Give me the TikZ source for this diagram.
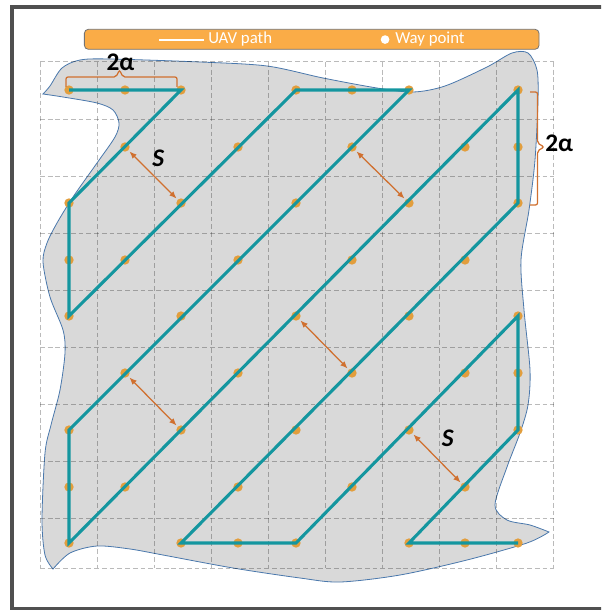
\documentclass[tikz,border=0pt]{standalone}
\usepackage{fontspec}
\setmainfont{Carlito}
\usetikzlibrary{arrows.meta, positioning}
\definecolor{areagray}{HTML}{D9D9D9}
\definecolor{edgeblue}{HTML}{4A78AC}
\definecolor{pathteal}{HTML}{14969F}
\definecolor{wpgold}{HTML}{E29E3D}
\definecolor{sorange}{HTML}{D0702F}
\definecolor{legendorange}{HTML}{FAAC47}
\definecolor{framegray}{HTML}{505050}
\tikzset{
  area/.style={
    fill=areagray,
    draw=edgeblue,
    line width=0.6pt
  },
  gridline/.style={
    draw=black,
    draw opacity=0.27,
    dash pattern=on 3.6pt off 2.2pt,
    line width=0.75pt
  },
  uavpath/.style={
    pathteal,
    line width=2.3pt
  },
  waypt/.style={
    circle,
    fill=wpgold,
    inner sep=0pt,
    minimum size=7pt
  },
  spacing/.style={
    {Latex[length=5.5pt,width=4.5pt]}-{Latex[length=5.5pt,width=4.5pt]},
    sorange,
    line width=0.95pt,
    shorten <=1pt,
    shorten >=1pt
  },
  bracket/.style={
    sorange,
    line width=0.95pt,
    rounded corners=1.5pt
  },
  mathlabel/.style={
    font=\fontsize{19}{22}\selectfont\bfseries,
    inner sep=0pt
  },
  legendbar/.style={
    draw=black!55,
    fill=legendorange,
    rounded corners=3pt,
    line width=0.6pt,
    minimum width=341pt,
    minimum height=15pt
  },
  legendtext/.style={
    text=white,
    font=\fontsize{12.6}{14}\selectfont,
    inner sep=0pt
  }
}

\begin{document}
\begin{tikzpicture}[x=0.75pt, y=-0.75pt]
  \useasboundingbox (0,0) rectangle (601,610);
  \clip (0,0) rectangle (601,610);
  \draw[framegray, line width=3pt] (11.5,7) rectangle (640,608.5);

  \filldraw[area]
    plot[smooth] coordinates {(43,94) (50,86) (62,68) (80,60) (110,59) (200,62) (267,66)
      (323,78) (377,88) (413,92) (445,86) (487,67) (512,53) (528,53) (537,70) (538,100)
      (535,160) (529,210) (521,260) (524,310) (530,370) (528,405) (520,433) (507,467)
      (495,505) (507,520) (530,525) (549,532)}
    -- plot[smooth] coordinates {(549,532) (527,543) (467,560) (400,575) (340,582)
      (300,578) (233,568) (163,555) (130,549) (97,546) (70,553) (53,569)}
    -- plot[smooth] coordinates {(53,569) (45,555) (42,520) (45,453) (51,425) (60,390)
      (65,353) (63,330) (50,297) (43,262) (47,243) (57,223) (73,197) (97,163) (115,137)
      (119,123) (113,110) (97,103) (63,97) (43,94)}
    -- cycle;

  \foreach \i in {0,...,9}
    \draw[gridline] ({40+57.1*\i},62) -- ({40+57.1*\i},568);
  \foreach \yy in {62,119,176,233,290,347,404,461,518,568}
    \draw[gridline] (40,\yy) -- (554,\yy);

  \foreach \c/\xx in {0/69,1/125,2/181,3/238,4/296,5/352,6/409,7/465,8/518}
    \foreach \r/\yy in {0/90,1/147,2/203,3/260,4/316,5/373,6/430,7/487,8/543}
      \coordinate (p\c-\r) at (\xx,\yy);

  \foreach \c in {0,...,8}
    \foreach \r in {0,...,8} {
      \pgfmathtruncatemacro{\parity}{mod(\c+\r,2)}
      \ifnum\parity=0 \node[waypt] (d\c-\r) at (p\c-\r) {}; \fi
    }
  \foreach \c/\r in {1/0,5/0,0/3,0/7,8/1,3/8,8/5,7/8}
    \node[waypt] (d\c-\r) at (p\c-\r) {};

  \draw[uavpath] (p0-0) -- (p2-0) -- (p0-2) -- (p0-4) -- (p4-0) -- (p6-0) -- (p0-6)
    -- (p0-8) -- (p8-0) -- (p8-2) -- (p2-8) -- (p4-8) -- (p8-4) -- (p8-6) -- (p6-8) -- (p8-8);

  \draw[spacing] (d1-1) -- (d2-2);
  \draw[spacing] (d5-1) -- (d6-2);
  \draw[spacing] (d4-4) -- (d5-5);
  \draw[spacing] (d1-5) -- (d2-6);
  \draw[spacing] (d6-6) -- (d7-7);
  \node[mathlabel, anchor=base] (s1) at (158.3,166.8) {\itshape S};
  \node[mathlabel, anchor=base] (s2) at (447.8,446.3) {\itshape S};

  \draw[bracket] (66,87) -- (66,77) -- (116,77) -- (119.5,70) -- (123,77) -- (177,77) -- (177,87);
  \node[mathlabel, anchor=base] (a1) at (120.5,70) {2α};
  \draw[bracket] (530,92) -- (537.5,92) -- (537.5,143) -- (544,147) -- (537.5,151)
    -- (537.5,205) -- (530,205);
  \node[mathlabel, anchor=base west] (a2) at (545,151.5) {2α};

  \node[legendbar] (legend) at (311.7,39.3) {};
  \node[legendtext, anchor=base west] (pathlbl) at (208,44) {UAV path};
  \node[legendtext, anchor=base west] (ptlbl) at (395,44) {Way point};
  \draw[white, line width=1.5pt] ([xshift=-3pt]pathlbl.west) -- ++(-45,0);
  \node[circle, fill=white, inner sep=0pt, minimum size=6.5pt, left=4pt of ptlbl] (ptdot) {};
\end{tikzpicture}
\end{document}
